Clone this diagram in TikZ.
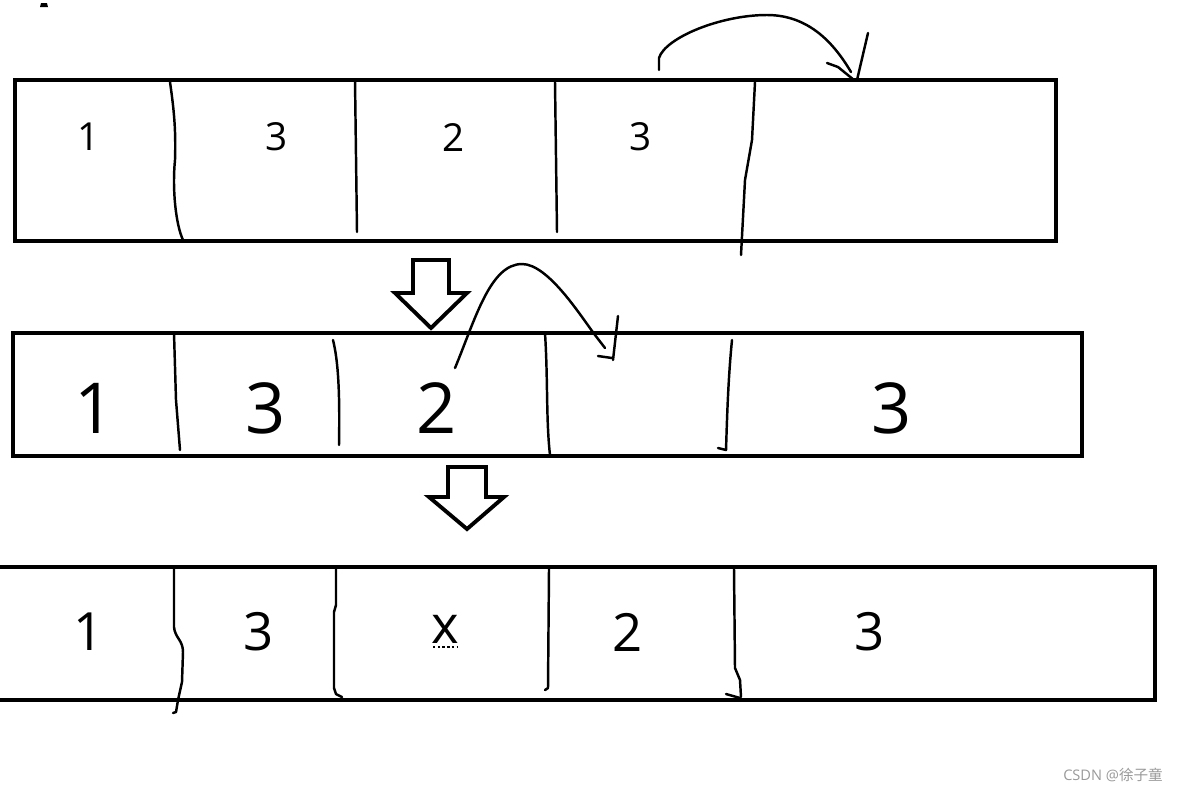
\documentclass[tikz,border=0pt]{standalone}
\usepackage{fontspec}
\setmainfont{Open Sans}
\newfontfamily\cjk{Noto Sans CJK SC}
\begin{document}
\begin{tikzpicture}[x=0.02cm,y=-0.02cm,
  boxline/.style={line width=2.3pt, line join=miter},
  hand/.style={line width=1.4pt, line cap=round, line join=round},
  blockarrow/.style={line width=2.2pt, line join=miter, fill=white},
  small/.style={font=\fontsize{22}{22}\selectfont, inner sep=0pt},
  big/.style={font=\fontsize{40}{40}\selectfont, inner sep=0pt},
  mid/.style={font=\fontsize{30}{30}\selectfont, inner sep=0pt}]
\useasboundingbox (0,0) rectangle (1179,792);
% top-left mark
\fill (40,7) -- (41,3) -- (47,3) -- (48,7) -- cycle;
% ---------- row 1 ----------
\draw[boxline] (15,80) rectangle (1056,241);
\draw[hand] (170,82) .. controls (174,110) and (176,130) .. (175,160) .. controls (172,190) and (176,225) .. (183,240);
\draw[hand] (355,80) -- (357,232);
\draw[hand] (555,82) -- (557,232);
\draw[hand] (755,82) -- (752,140) -- (745,180) -- (741,255);
\node[small] (a1) at (89,137) {1};
\node[small] (a2) at (277,137) {3};
\node[small] (a3) at (454,137) {2};
\node[small] (a4) at (641,137) {3};
% curved arrow 1
\coordinate (c1s) at (659,70);
\coordinate (c1e) at (851,72);
\draw[hand] (c1s) -- (659,58) .. controls (665,38) and (720,15) .. (767,15) .. controls (810,15) and (835,45) .. (c1e);
\draw[hand] (827,63) -- (838,67) -- (854,80);
\draw[hand] (868,33) -- (857,80);
% block arrow 1
\draw[blockarrow] (413,260) -- (449,260) -- (449,293) -- (467,293) -- (431,328) -- (395,293) -- (413,293) -- cycle;
% ---------- row 2 ----------
\draw[boxline] (13,333) rectangle (1082,456);
\draw[hand] (174,333) -- (176,400) -- (180,450);
\draw[hand] (333,340) .. controls (338,360) and (340,390) .. (339,445);
\draw[hand] (545,333) .. controls (548,380) and (546,420) .. (550,455);
\draw[hand] (732,340) .. controls (728,380) and (727,420) .. (726,450) -- (718,448);
\node[big] (b1) at (95,408) {1};
\node[big] (b2) at (266,408) {3};
\node[big] (b3) at (437,408) {2};
\node[big] (b4) at (892,408) {3};
% curved arrow 2
\coordinate (c2s) at (455,368);
\coordinate (c2e) at (605,348);
\draw[hand] (c2s) .. controls (475,320) and (490,264) .. (522,264) .. controls (548,264) and (580,315) .. (595,335) -- (c2e);
\draw[hand] (598,356) -- (612,358);
\draw[hand] (618,316) -- (613,360);
% block arrow 2
\draw[blockarrow] (448,467) -- (486,467) -- (486,497) -- (504,497) -- (467,529) -- (429,497) -- (448,497) -- cycle;
% ---------- row 3 ----------
\draw[boxline] (0,567) -- (1155,567) -- (1155,700) -- (0,700);
\draw[hand] (174,569) -- (174,627) .. controls (175,638) and (183,640) .. (183,652) -- (182,682) -- (178,700) -- (176,712) -- (173,713);
\draw[hand] (336,569) -- (336,605) -- (334,612) -- (334,688) -- (336,694) -- (342,697);
\draw[hand] (549,569) -- (548,688) -- (545,690);
\draw[hand] (734,569) -- (735,668) -- (740,680) -- (741,697);
\draw[hand] (726,694) -- (740,698);
\node[mid] (d1) at (89,632) {1};
\node[mid] (d2) at (259,632) {3};
\node[mid] (d3) at (445,629) {x};
\draw[line width=1.3pt, dash pattern=on 1.4pt off 1.3pt] (433,647) -- (458,647);
\node[mid] (d4) at (628,632) {2};
\node[mid] (d5) at (870,632) {3};
% watermark
\node[font=\fontsize{8.3}{8.3}\selectfont, text=black!40, inner sep=0pt] (wm) at (1113,775) {CSDN @{\cjk 徐子童}};
\end{tikzpicture}
\end{document}
